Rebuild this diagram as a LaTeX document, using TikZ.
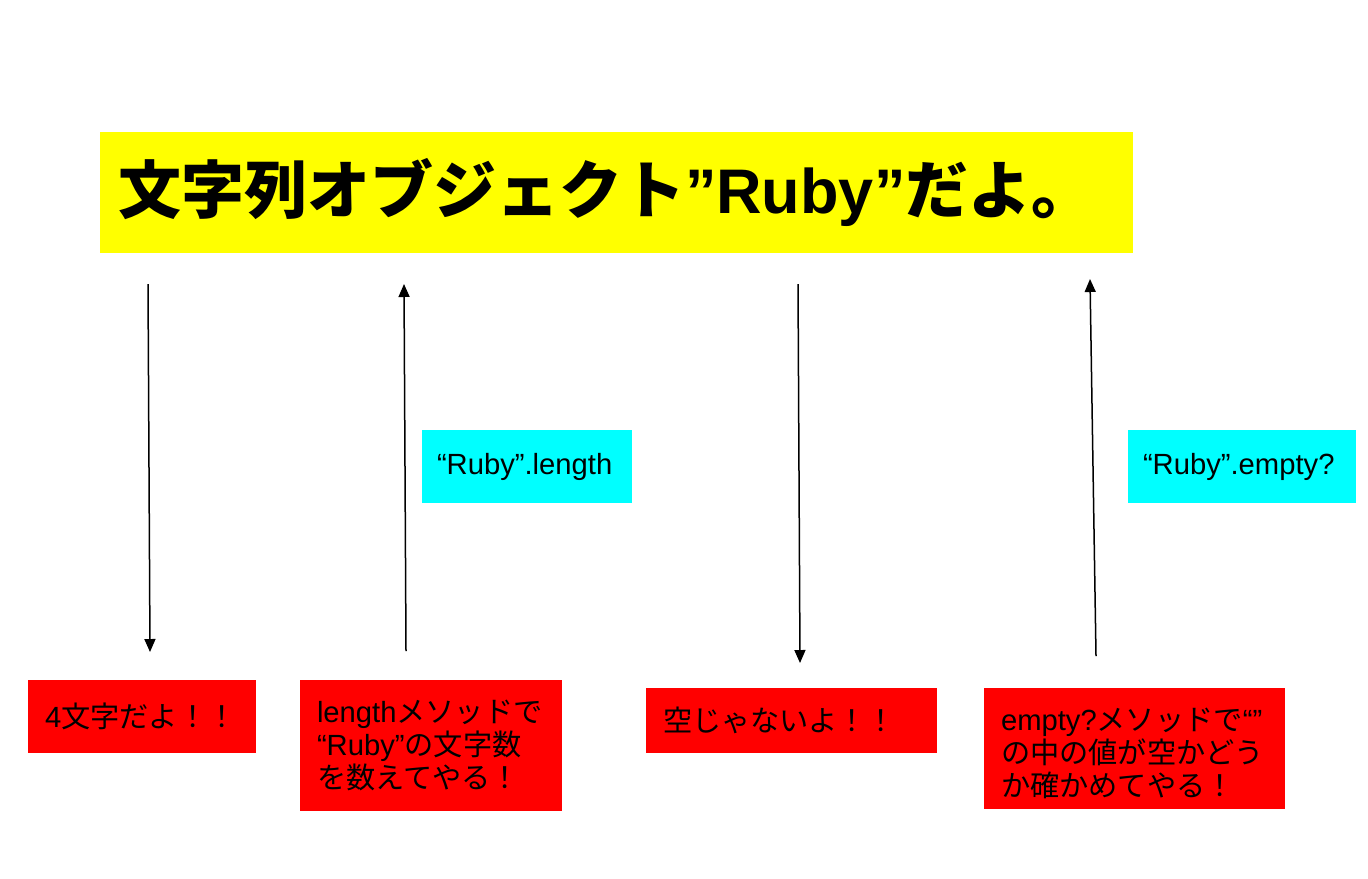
\documentclass[tikz,border=0pt]{standalone}
\usepackage{fontspec}
\setmainfont{Liberation Sans}
\newfontfamily\jp{Noto Sans CJK JP}
\usetikzlibrary{arrows.meta}
\definecolor{ttlyellow}{HTML}{FFFF00}
\definecolor{boxred}{HTML}{FF0000}
\definecolor{boxcyan}{HTML}{00FFFF}
\newcommand\J[1]{{\jp #1}}
\begin{document}
\begin{tikzpicture}[x=0.5pt,y=-0.5pt,
  basebox/.style={anchor=north west, draw=none, outer sep=0pt, inner ysep=0pt,
    align=left, font=\fontsize{14.6}{16.6}\selectfont},
  redbox/.style={basebox, fill=boxred, inner xsep=8.5pt},
  cyanbox/.style={basebox, fill=boxcyan, inner xsep=7.5pt},
  titlebox/.style={basebox, fill=ttlyellow, inner xsep=9pt, font=\fontsize{31.5}{36}\selectfont\bfseries},
  arr/.style={draw=black, line width=0.75pt, -{Triangle[length=6.5pt,width=5.5pt]}}]
\useasboundingbox (0,0) rectangle (1368,878);
\fill[white] (0,0) rectangle (1368,878);

% title
\node[titlebox, minimum width=516.5pt, minimum height=60.5pt, text width=498.5pt] (title) at (100,132)
  {\J{文字列オブジェクト}”Ruby”\J{だよ。}};

% method boxes
\node[cyanbox, minimum width=105pt, minimum height=36.5pt, text width=90pt] (len) at (422,430)
  {“Ruby”.length};
\node[cyanbox, minimum width=114pt, minimum height=36.5pt, text width=99pt] (emp) at (1128,430)
  {“Ruby”.empty?};

% result boxes
\node[redbox, minimum width=114pt, minimum height=36.5pt, text width=97pt] (r1) at (28,680)
  {4\J{文字だよ！！}};
\node[redbox, minimum width=131pt, minimum height=65.5pt, text width=114pt] (r2) at (300,680)
  {length\J{メソッドで}\\“Ruby”\J{の文字数}\\\J{を数えてやる！}};
\node[redbox, minimum width=145.5pt, minimum height=32.5pt, text width=128.5pt] (r3) at (646,688)
  {\J{空じゃないよ！！}};
\node[redbox, minimum width=150.5pt, minimum height=60.5pt, text width=133.5pt] (r4) at (984,688)
  {\rule{0pt}{16pt}empty?\J{メソッドで}“”\\\J{の中の値が空かどう}\\\J{か確かめてやる！}};

% arrow end points
\coordinate (a1s) at (148,284);
\coordinate (a1e) at (150,652);
\coordinate (a2s) at (406,651);
\coordinate (a2e) at (404,284);
\coordinate (a3s) at (798,284);
\coordinate (a3e) at (800,663);
\coordinate (a4s) at (1096,656);
\coordinate (a4e) at (1090,279);

\draw[arr] (a1s) -- (a1e);
\draw[arr] (a2s) -- (a2e);
\draw[arr] (a3s) -- (a3e);
\draw[arr] (a4s) -- (a4e);
\end{tikzpicture}
\end{document}
